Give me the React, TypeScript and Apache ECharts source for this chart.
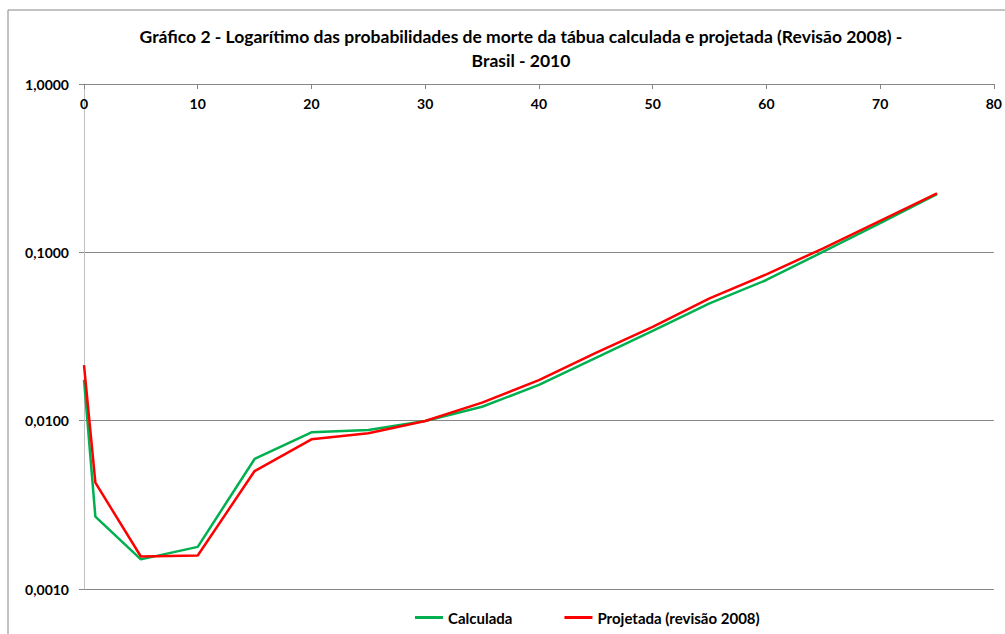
import React, { useEffect, useRef } from "react";
import * as echarts from "echarts";

const ages = [0, 1, 5, 10, 15, 20, 25, 30, 35, 40, 45, 50, 55, 60, 65, 70, 75];
const calculada = [0.0175, 0.00269, 0.0015, 0.00178, 0.00592, 0.00853, 0.00881, 0.00995, 0.0121, 0.0163, 0.0236, 0.0342, 0.0498, 0.0685, 0.1009, 0.149, 0.222];
const projetada = [0.0214, 0.00428, 0.00156, 0.00158, 0.00502, 0.00775, 0.00841, 0.00995, 0.0128, 0.0174, 0.0253, 0.0361, 0.0533, 0.074, 0.1057, 0.154, 0.224];
const seriesNames = ["Calculada", "Projetada (revisão 2008)"];
const titleText = "Gráfico 2 - Logarítimo das probabilidades de morte da tábua calculada e projetada (Revisão 2008) -\nBrasil - 2010";

export default function App() {
  const ref = useRef<HTMLDivElement>(null);
  useEffect(() => {
    if (!ref.current) return;
    const chart = echarts.init(ref.current, null, { renderer: "svg" });
    const font = "Lato";
    chart.setOption({
      animation: false,
      backgroundColor: "#ffffff",
      textStyle: { fontFamily: font },
      title: {
        text: titleText,
        left: 516,
        textAlign: "center",
        top: 19,
        textStyle: { fontFamily: font, fontWeight: "bold", fontSize: 17.5, color: "#000", lineHeight: 24 },
      },
      graphic: [
        {
          type: "rect",
          shape: { x: 8, y: 10, width: 1100, height: 700 },
          style: { fill: "none", stroke: "#868686", lineWidth: 1 },
          silent: true,
        },
      ],
      legend: {
        top: 605,
        left: 410,
        icon: "rect",
        itemWidth: 28,
        itemHeight: 3,
        itemGap: 52,
        textStyle: { fontFamily: font, fontWeight: "bold", fontSize: 15, color: "#000" },
        data: seriesNames,
      },
      grid: { left: 84, right: 8, top: 84, bottom: 45, containLabel: false },
      xAxis: {
        type: "value",
        position: "top",
        min: 0,
        max: 80,
        interval: 10,
        axisLine: { show: true, lineStyle: { color: "#868686", width: 1 } },
        axisTick: { show: true, inside: true, length: 5, lineStyle: { color: "#868686" } },
        axisLabel: { inside: true, margin: 12, fontFamily: font, fontWeight: "bold", fontSize: 14, color: "#000" },
        splitLine: { show: false },
      },
      yAxis: {
        type: "log",
        logBase: 10,
        min: 0.001,
        max: 1,
        axisLine: { show: true, onZero: false, lineStyle: { color: "#bfbfbf", width: 1 } },
        axisTick: { show: true, length: 5, lineStyle: { color: "#868686" } },
        axisLabel: {
          margin: 15,
          fontFamily: font,
          fontWeight: "bold",
          fontSize: 14,
          color: "#000",
          formatter: (v: number) => v.toFixed(4).replace(".", ","),
        },
        splitLine: { show: true, lineStyle: { color: "#868686", width: 1 } },
      },
      series: [
        {
          name: seriesNames[0],
          type: "line",
          data: ages.map((a, i) => [a, calculada[i]]),
          symbol: "none",
          lineStyle: { color: "#00B050", width: 2.5 },
          itemStyle: { color: "#00B050" },
          z: 2,
        },
        {
          name: seriesNames[1],
          type: "line",
          data: ages.map((a, i) => [a, projetada[i]]),
          symbol: "none",
          lineStyle: { color: "#FF0000", width: 2.5 },
          itemStyle: { color: "#FF0000" },
          z: 3,
        },
      ],
    });
    return () => chart.dispose();
  }, []);
  return <div ref={ref} style={{ position: "fixed", left: 0, top: 0, width: 1005, height: 634 }} />;
}
